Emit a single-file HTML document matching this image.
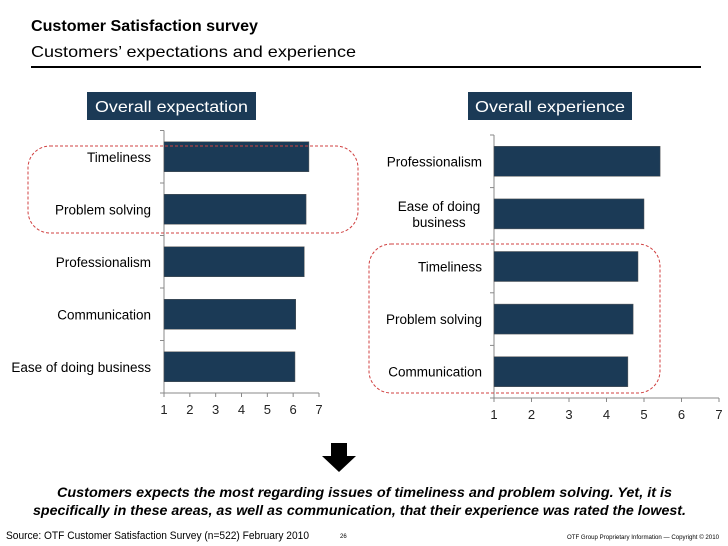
<!DOCTYPE html>
<html><head><meta charset="utf-8"><style>
body{margin:0;width:728px;height:546px;background:#fff;overflow:hidden;font-family:"Liberation Sans",Arial,sans-serif}
svg{display:block}
</style></head><body>
<svg width="728" height="546" viewBox="0 0 728 546">
<text x="31" y="31" font-size="16" font-weight="bold" fill="#000" textLength="227" lengthAdjust="spacingAndGlyphs">Customer Satisfaction survey</text>
<text x="31" y="57" font-size="16" fill="#000" textLength="325" lengthAdjust="spacingAndGlyphs">Customers’ expectations and experience</text>
<rect x="31" y="66" width="670" height="2" fill="#000"/>
<rect x="87" y="92" width="169" height="28" fill="#1b3a56"/>
<text x="95" y="112" font-size="16" fill="#fff" textLength="153" lengthAdjust="spacingAndGlyphs">Overall expectation</text>
<rect x="468" y="92" width="164" height="28" fill="#1b3a56"/>
<text x="475" y="112" font-size="16" fill="#fff" textLength="150" lengthAdjust="spacingAndGlyphs">Overall experience</text>
<g id="left"></g>
<g id="right"></g>
<rect x="28" y="146" width="330" height="87" rx="22" fill="none" stroke="#d04040" stroke-width="1" stroke-dasharray="3,2"/>
<rect x="369" y="244" width="291" height="149" rx="22" fill="none" stroke="#d04040" stroke-width="1" stroke-dasharray="3,2"/>
<path d="M331 443 H347 V456 H356 L339 472 L322 456 H331 Z" fill="#000"/>
<text x="57" y="497" font-size="14" font-weight="bold" font-style="italic" fill="#000" textLength="615" lengthAdjust="spacingAndGlyphs">Customers expects the most regarding issues of timeliness and problem solving. Yet, it is</text>
<text x="33" y="515" font-size="14" font-weight="bold" font-style="italic" fill="#000" textLength="653" lengthAdjust="spacingAndGlyphs">specifically in these areas, as well as communication, that their experience was rated the lowest.</text>
<text x="6" y="539" font-size="11" fill="#000" textLength="303" lengthAdjust="spacingAndGlyphs">Source: OTF  Customer Satisfaction Survey (n=522) February 2010</text>
<text x="340" y="538" font-size="6" fill="#000">26</text>
<text x="567" y="539" font-size="6.5" fill="#000" textLength="152" lengthAdjust="spacingAndGlyphs">OTF Group Proprietary Information — Copyright © 2010</text>
</svg>
<script>
const NS="http://www.w3.org/2000/svg";
const expCategories=["Timeliness","Problem solving","Professionalism","Communication","Ease of doing business"];
const expValues=[6.61,6.5,6.43,6.1,6.07];
const xpCategories=["Professionalism","Ease of doing|business","Timeliness","Problem solving","Communication"];
const xpValues=[5.43,5.0,4.84,4.71,4.57];
const tickLabels=[1,2,3,4,5,6,7];
function mk(t,a){const e=document.createElementNS(NS,t);for(const k in a)e.setAttribute(k,a[k]);return e;}
function draw(g,cats,vals,x0,x1,y0,y1,labelX){
  const sx=v=>x0+(v-1)*(x1-x0)/6;
  const band=(y1-y0)/cats.length;
  const ax=mk("line",{x1:x0,y1:y0,x2:x0,y2:y1,stroke:"#888","stroke-width":1});
  
  
  g.appendChild(ax);
  const bx=mk("line",{x1:x0,y1:y1,x2:x1,y2:y1,stroke:"#888","stroke-width":1});
  
  
  g.appendChild(bx);
  for(let i=0;i<=cats.length;i++){
    const t=mk("line",{x1:x0-4,y1:y0+i*band,x2:x0,y2:y0+i*band,stroke:"#888"});
    
    
    g.appendChild(t);
  }
  tickLabels.forEach(v=>{
    const t=mk("line",{x1:sx(v),y1:y1,x2:sx(v),y2:y1+4,stroke:"#888"});
    
    
    g.appendChild(t);
    const l=mk("text",{x:sx(v),y:y1+21,"font-size":13,"text-anchor":"middle",fill:"#222"});
    l.textContent=v;
    
    
    g.appendChild(l);
  });
  cats.forEach((c,i)=>{
    const cy=y0+band*(i+0.5);
    const r=mk("rect",{x:x0,y:cy-15,width:sx(vals[i])-x0,height:30,fill:"#1b3a56",stroke:"#555","stroke-width":0.5});
    
    
    g.appendChild(r);
    const parts=c.split("|");
    parts.forEach((p,j)=>{
      const t=mk("text",{x:labelX,y:cy+5+(j-(parts.length-1)/2)*16,"font-size":13.5,"text-anchor":parts.length>1?"middle":"end",fill:"#000"});
      if(parts.length>1)t.setAttribute("x",labelX-43);
      t.textContent=p;
      
      
      g.appendChild(t);
    });
  });
}
draw(document.getElementById("left"),expCategories,expValues,164,319,130.5,393,151);
draw(document.getElementById("right"),xpCategories,xpValues,494,719,135,398,482);
</script>
</body></html>
